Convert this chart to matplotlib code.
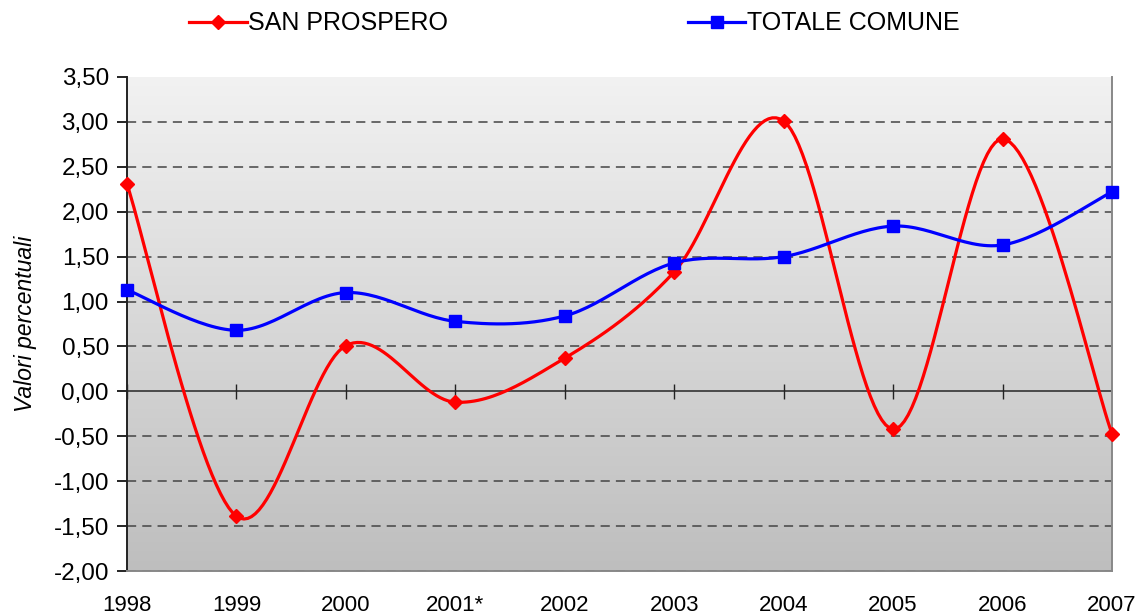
import numpy as np
import matplotlib

matplotlib.use("Agg")
import matplotlib.pyplot as plt
from matplotlib.ticker import FuncFormatter

years = ["1998", "1999", "2000", "2001*", "2002", "2003", "2004", "2005", "2006", "2007"]
san_prospero = [2.31, -1.39, 0.51, -0.12, 0.37, 1.33, 3.01, -0.42, 2.81, -0.47]
totale_comune = [1.13, 0.68, 1.10, 0.78, 0.84, 1.43, 1.50, 1.84, 1.63, 2.22]
y_ticks = [-2.0, -1.5, -1.0, -0.5, 0.0, 0.5, 1.0, 1.5, 2.0, 2.5, 3.0, 3.5]


def smooth(x, y, steps=30):
    # Excel-style smoothed line: cubic Bezier with Catmull-Rom control points
    pts = np.column_stack([x, y]).astype(float)
    padded = np.vstack([pts[0], pts, pts[-1]])
    t = np.linspace(0, 1, steps)[:, None]
    out = []
    for i in range(len(pts) - 1):
        p0, p1, p2, p3 = padded[i], padded[i + 1], padded[i + 2], padded[i + 3]
        c1 = p1 + (p2 - p0) / 6
        c2 = p2 - (p3 - p1) / 6
        seg = ((1 - t) ** 3) * p1 + 3 * ((1 - t) ** 2) * t * c1 \
            + 3 * (1 - t) * t ** 2 * c2 + t ** 3 * p2
        out.append(seg if i == 0 else seg[1:])
    seg = np.vstack(out)
    return seg[:, 0], seg[:, 1]


plt.rcParams["font.family"] = ["Liberation Sans", "DejaVu Sans"]
fig = plt.figure(figsize=(11.44, 6.16), dpi=100)
ax = fig.add_axes([0.111, 0.073, 0.861, 0.802])

x = np.arange(len(years))
ax.set_xlim(0, len(years) - 1)
ax.set_ylim(-2.0, 3.5)

# gradient background
grad = np.linspace(0, 1, 256)[:, None]
ax.imshow(grad, extent=(0, 1, 0, 1), transform=ax.transAxes, aspect="auto",
          cmap=matplotlib.colors.LinearSegmentedColormap.from_list("bg", ["#f2f2f2", "#bebebe"]),
          zorder=0, origin="upper")

for v in y_ticks:
    if v != 0 and v != 3.5:
        ax.axhline(v, color="#444444", linewidth=1.1, linestyle=(0, (6, 4)), zorder=1)
ax.axhline(0, color="#333333", linewidth=1.2, zorder=1)
ax.vlines(x, -0.08, 0.08, color="#222222", linewidth=1.0, zorder=1)

sx, sy = smooth(x, san_prospero)
ax.plot(sx, sy, color="#ff0000", linewidth=2.3, zorder=3, solid_capstyle="round")
ax.plot(x, san_prospero, linestyle="none", marker="D", markersize=7.5,
        color="#ff0000", zorder=4, clip_on=False)
tx, ty = smooth(x, totale_comune)
ax.plot(tx, ty, color="#0000ff", linewidth=2.3, zorder=3, solid_capstyle="round")
ax.plot(x, totale_comune, linestyle="none", marker="s", markersize=8,
        color="#0000ff", zorder=4, clip_on=False)

ax.set_xticks(x)
ax.set_xticklabels(years)
ax.tick_params(axis="x", length=0, pad=17, labelsize=16)
ax.set_yticks(y_ticks)
ax.yaxis.set_major_formatter(FuncFormatter(lambda v, _: f"{v:.2f}".replace(".", ",")))
ax.tick_params(axis="y", direction="out", length=7, width=1.2, labelsize=17.5, pad=6)
ax.set_ylabel("Valori percentuali", style="italic", fontsize=16.5, labelpad=12)

ax.spines["top"].set_visible(False)
ax.spines["left"].set_color("#222222")
ax.spines["left"].set_linewidth(1.4)
ax.spines["right"].set_color("#888888")
ax.spines["right"].set_linewidth(1.4)
ax.spines["bottom"].set_color("#888888")
ax.spines["bottom"].set_linewidth(1.4)

handles = [
    plt.Line2D([0], [0], color="#ff0000", linewidth=2.3, marker="D", markersize=7.5),
    plt.Line2D([0], [0], color="#0000ff", linewidth=2.3, marker="s", markersize=8),
]
fig.legend(handles, ["SAN PROSPERO", "TOTALE COMUNE"], loc="center",
           bbox_to_anchor=(0.502, 0.962), ncol=2, frameon=False, fontsize=18,
           columnspacing=9.6, handlelength=2.3, handletextpad=0.05)

fig.savefig("out.png", dpi=100, facecolor="white")
